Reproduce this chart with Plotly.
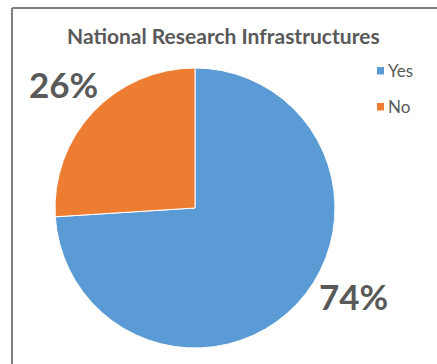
import plotly.graph_objects as go

labels = ["Yes", "No"]
values = [74, 26]
colors = ["#5B9BD5", "#ED7D31"]
title = "National Research Infrastructures"

W, H = 437, 364
TXT = "#595959"
FONT = "Lato"

fig = go.Figure()
fig.add_trace(go.Pie(
    labels=labels, values=values, sort=False, direction="clockwise", rotation=0,
    marker=dict(colors=colors, line=dict(color="white", width=1)),
    textinfo="none", hoverinfo="label+percent", showlegend=False,
    domain=dict(x=[55 / W, 335 / W], y=[(H - 348) / H, (H - 68) / H]),
))

total = sum(values)
label_pos = {"Yes": (353, 296), "No": (63, 84)}
annotations = []
for lab, v in zip(labels, values):
    px, py = label_pos[lab]
    annotations.append(dict(
        x=px / W, y=1 - py / H, xref="paper", yref="paper", showarrow=False,
        text=f"<b>{round(v / total * 100)}%</b>",
        font=dict(family=FONT, size=35, color=TXT), xanchor="center", yanchor="middle",
    ))

# manual legend
shapes = []
leg_y = [70, 106]
for lab, c, ly in zip(labels, colors, leg_y):
    shapes.append(dict(type="rect", xref="paper", yref="paper",
                       x0=377 / W, x1=384 / W, y0=1 - (ly + 4.5) / H, y1=1 - (ly - 3) / H,
                       fillcolor=c, line=dict(width=0)))
    annotations.append(dict(
        x=386 / W, y=1 - ly / H, xref="paper", yref="paper", showarrow=False,
        text=lab, font=dict(family=FONT, size=17, color=TXT), xanchor="left", yanchor="middle",
    ))

# title
annotations.append(dict(
    x=223 / W, y=1 - 35 / H, xref="paper", yref="paper", showarrow=False,
    text=f"<b>{title}</b>", font=dict(family=FONT, size=21, color=TXT),
    xanchor="center", yanchor="middle",
))

# border (left and top)
shapes.append(dict(type="line", xref="paper", yref="paper", x0=12 / W, x1=12 / W,
                   y0=0, y1=1 - 8 / H, line=dict(color="#7F7F7F", width=2)))
shapes.append(dict(type="line", xref="paper", yref="paper", x0=12 / W, x1=1,
                   y0=1 - 8 / H, y1=1 - 8 / H, line=dict(color="#7F7F7F", width=2)))

fig.update_layout(
    width=W, height=H, margin=dict(l=0, r=0, t=0, b=0),
    paper_bgcolor="white", plot_bgcolor="white",
    annotations=annotations, shapes=shapes,
)
fig.write_html("out.html")
